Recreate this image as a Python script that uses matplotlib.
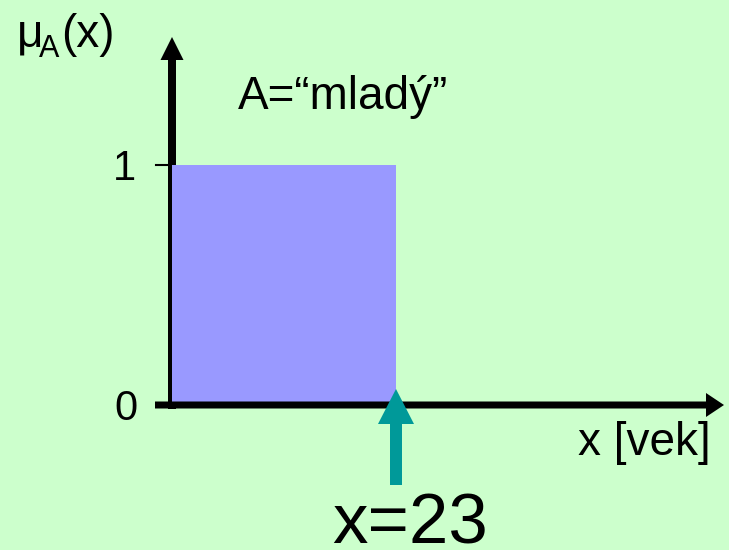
import matplotlib
matplotlib.use('Agg')
import matplotlib.pyplot as plt
from matplotlib.patches import FancyArrowPatch, ArrowStyle

# data: crisp set A = "mladý" (young), membership 1 up to 23 years
age = [0, 23]
membership = [1, 1]
x_value = 23
tick_values = [0, 1]
tick_labels = ['0', '1']

BG = '#CCFFCC'
FILL = '#9999FF'
TEAL = '#009999'

plt.rcParams['font.family'] = ['Liberation Sans', 'DejaVu Sans']

# pixel layout of the original slide: origin at (172, 405), 23 years ~ 224 px, 1 ~ 240 px
W, H = 729, 550
ox, oy = 172, 405
sx, sy = 224 / 23, 240


def dx(px):
    return (px - ox) / sx


def dy(py):
    return (oy - py) / sy


fig = plt.figure(figsize=(W / 100, H / 100), dpi=100, facecolor=BG)
ax = fig.add_axes([0, 0, 1, 1])
ax.set_facecolor(BG)
ax.set_xlim(dx(0), dx(W))
ax.set_ylim(dy(H), dy(0))
ax.axis('off')


def arrow(p0, p1, tail, hw, hl, color, z):
    st = ArrowStyle.Simple(head_length=hl, head_width=hw, tail_width=tail)
    a = FancyArrowPatch(p0, p1, arrowstyle=st, mutation_scale=0.72,
                        color=color, lw=0, shrinkA=0, shrinkB=0, zorder=z)
    ax.add_patch(a)


# membership function
ax.fill_between(age, 0, membership, color=FILL, lw=0, zorder=2)

# axes
arrow((0, dy(409)), (0, dy(37)), 8, 23, 23, 'black', 1)
arrow((dx(155), 0), (dx(724), 0), 7, 24, 18, 'black', 3)
ax.plot([dx(156), 0], [tick_values[1], tick_values[1]], color='black', lw=1.5, zorder=1)

# tick labels
ax.text(dx(136), tick_values[1], tick_labels[1], fontsize=30, ha='right', va='center_baseline')
ax.text(dx(138), tick_values[0], tick_labels[0], fontsize=30, ha='right', va='center_baseline')

# y label: mu_A(x)
ax.text(dx(17), dy(47), '\u03bc', fontsize=33, ha='left', va='baseline')
ax.text(dx(39), dy(57), 'A', fontsize=22, ha='left', va='baseline')
ax.text(dx(61), dy(47), '(x)', fontsize=33, ha='left', va='baseline')

ax.text(dx(238), dy(109), 'A=\u201cmlad\u00fd\u201d', fontsize=33, ha='left', va='baseline')
ax.text(dx(578), dy(455), 'x [vek]', fontsize=33, ha='left', va='baseline')

# value marker
arrow((x_value, dy(485)), (x_value, dy(389)), 12, 36, 35, TEAL, 4)
ax.text(dx(332), dy(544), 'x=%d' % x_value, fontsize=51, ha='left', va='baseline')

fig.savefig('out.png', dpi=100, facecolor=BG)
